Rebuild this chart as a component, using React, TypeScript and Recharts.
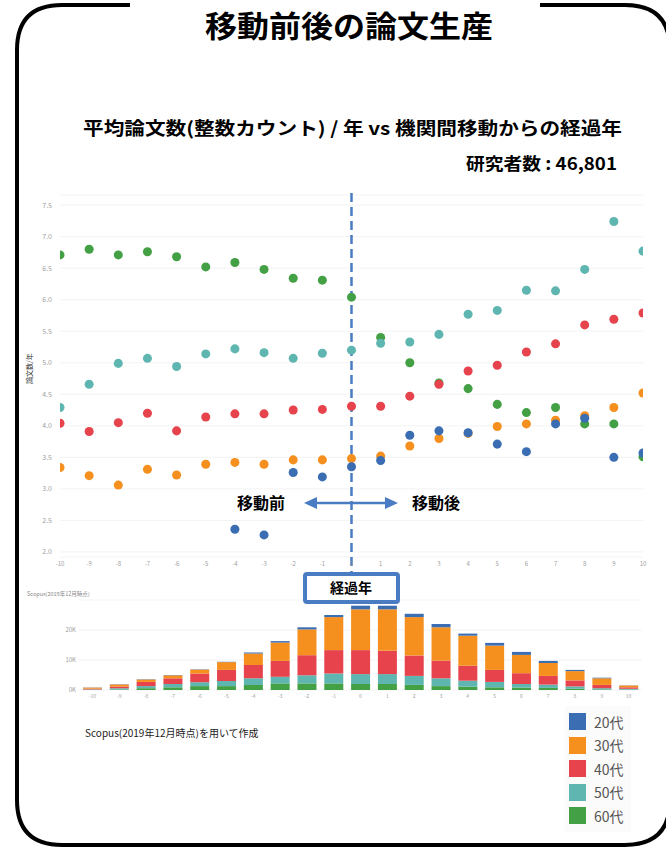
import React from "react";
import {
  ScatterChart,
  Scatter,
  XAxis,
  YAxis,
  ZAxis,
  CartesianGrid,
  ReferenceLine,
  BarChart,
  Bar,
} from "recharts";

// years since moving between institutions
const years = [-10, -9, -8, -7, -6, -5, -4, -3, -2, -1, 0, 1, 2, 3, 4, 5, 6, 7, 8, 9, 10];

// average papers per year by age group
const papers60 = [6.71, 6.8, 6.71, 6.76, 6.68, 6.52, 6.59, 6.48, 6.34, 6.31, 6.04, 5.4, 5.0, 4.68, 4.59, 4.34, 4.21, 4.29, 4.03, 4.03, 3.51];
const papers50 = [4.29, 4.66, 4.99, 5.07, 4.94, 5.14, 5.22, 5.16, 5.07, 5.15, 5.2, 5.31, 5.33, 5.45, 5.77, 5.83, 6.15, 6.14, 6.48, 7.24, 6.77];
const papers40 = [4.04, 3.91, 4.05, 4.2, 3.92, 4.14, 4.19, 4.19, 4.25, 4.26, 4.31, 4.31, 4.47, 4.66, 4.87, 4.96, 5.17, 5.3, 5.6, 5.69, 5.79];
const papers30 = [3.34, 3.21, 3.06, 3.31, 3.22, 3.39, 3.42, 3.39, 3.46, 3.46, 3.48, 3.52, 3.68, 3.8, 3.88, 3.99, 4.03, 4.09, 4.16, 4.29, 4.52];
const papers20 = [null, null, null, null, null, null, 2.36, 2.27, 3.26, 3.19, 3.35, 3.45, 3.85, 3.92, 3.89, 3.71, 3.59, 4.03, 4.12, 3.5, 3.57];

// researchers counted per year (thousands)
const count60 = [0.05, 0.2, 0.6, 0.9, 1.3, 1.3, 1.7, 2.2, 2.2, 2.2, 2.0, 2.0, 1.7, 1.3, 1.1, 0.9, 0.8, 0.7, 0.4, 0.2, 0.1];
const count50 = [0.15, 0.4, 0.7, 1.1, 1.3, 1.7, 2.2, 2.2, 2.7, 3.3, 3.3, 3.3, 3.0, 2.6, 2.0, 1.8, 1.2, 1.1, 0.8, 0.4, 0.3];
const count40 = [0.25, 0.6, 1.4, 1.9, 2.9, 3.7, 4.4, 5.3, 6.7, 7.8, 8.0, 7.8, 6.8, 5.9, 5.0, 4.0, 3.6, 2.9, 2.0, 1.1, 0.5];
const count30 = [0.35, 0.6, 0.8, 1.0, 1.3, 2.6, 3.9, 6.1, 8.6, 11.0, 13.6, 13.8, 12.8, 11.1, 10.0, 8.1, 6.1, 4.3, 3.1, 2.2, 0.6];
const count20 = [0.05, 0.1, 0.1, 0.1, 0.1, 0.1, 0.3, 0.5, 0.7, 0.7, 1.2, 1.2, 1.1, 1.1, 0.7, 0.9, 1.0, 0.7, 0.4, 0.2, 0.05];

const yTicks = [2, 2.5, 3, 3.5, 4, 4.5, 5, 5.5, 6, 6.5, 7, 7.5];
const barTicks = [0, 10, 20];

const groups = [
  { key: "g20", name: "20代", color: "#3b6db3", papers: papers20, count: count20 },
  { key: "g30", name: "30代", color: "#f5901e", papers: papers30, count: count30 },
  { key: "g40", name: "40代", color: "#e6434d", papers: papers40, count: count40 },
  { key: "g50", name: "50代", color: "#5fb6b0", papers: papers50, count: count50 },
  { key: "g60", name: "60代", color: "#43a044", papers: papers60, count: count60 },
];

// draw order: 60 at the bottom, 20 on top
const drawOrder = [...groups].reverse();

const scatterData = (vals: (number | null)[]) =>
  years
    .map((x, i) => ({ x, y: vals[i] }))
    .filter((d) => d.y !== null);

const barData = years.map((year, i) => {
  const row: Record<string, number> = { year };
  groups.forEach((g) => {
    row[g.key] = g.count[i];
  });
  return row;
});

const font = "'Noto Sans CJK JP', 'Noto Sans', sans-serif";
const tickStyle = { fontSize: 7, fill: "#a0a0a0" };

export default function App() {
  return (
    <div
      style={{
        position: "absolute",
        left: 0,
        top: 0,
        width: 666,
        height: 850,
        background: "#fff",
        fontFamily: font,
        overflow: "hidden",
      }}
    >
      <div style={{ position: "absolute", left: 0, top: 0 }}>
        <ScatterChart
          width={666}
          height={600}
          margin={{ top: 195, right: 23, bottom: 23, left: 30 }}
        >
          <CartesianGrid stroke="#f3f3f3" vertical={false} />
          <XAxis
            type="number"
            dataKey="x"
            domain={[-10, 10]}
            ticks={years}
            allowDataOverflow
            axisLine={false}
            tickLine={false}
            tickSize={0}
            tickMargin={5}
            height={20}
            tick={{ fontSize: 6, fill: "#a0a0a0" }}
          />
          <YAxis
            type="number"
            dataKey="y"
            domain={[1.92, 7.66]}
            ticks={yTicks}
            allowDataOverflow
            axisLine={false}
            tickLine={false}
            tickSize={0}
            tickMargin={8}
            width={30}
            tickFormatter={(v: number) => v.toFixed(1)}
            tick={tickStyle}
            label={{
              value: "論文数/年",
              angle: -90,
              position: "insideLeft",
              offset: 0,
              dy: 8,
              style: { fontSize: 7, fill: "#333" },
            }}
          />
          <ZAxis range={[118, 118]} />
          {drawOrder.map((g) => (
            <Scatter
              key={g.key}
              name={g.name}
              data={scatterData(g.papers)}
              fill={g.color}
              isAnimationActive={false}
            />
          ))}
          <ReferenceLine
            segment={[
              { x: 0, y: 7.69 },
              { x: 0, y: 1.68 },
            ]}
            ifOverflow="visible"
            stroke="#4a7cc4"
            strokeWidth={2.5}
            strokeDasharray="9 5"
          />
        </ScatterChart>
      </div>

      <div style={{ position: "absolute", left: 0, top: 560 }}>
        <BarChart
          width={666}
          height={160}
          data={barData}
          margin={{ top: 40, right: 24, bottom: 16, left: 49 }}
          barSize={19}
        >
          <CartesianGrid stroke="#f3f3f3" vertical={false} />
          <XAxis
            dataKey="year"
            axisLine={false}
            tickLine={false}
            tickSize={0}
            tickMargin={4}
            height={14}
            interval={0}
            tick={{ fontSize: 5, fill: "#a0a0a0" }}
          />
          <YAxis
            domain={[0, 30]}
            ticks={barTicks}
            axisLine={false}
            tickLine={false}
            tickSize={0}
            tickMargin={3}
            width={30}
            tickFormatter={(v: number) => `${v}K`}
            tick={{ fontSize: 6, fill: "#a0a0a0" }}
          />
          {drawOrder.map((g) => (
            <Bar
              key={g.key}
              dataKey={g.key}
              name={g.name}
              stackId="n"
              fill={g.color}
              isAnimationActive={false}
            />
          ))}
        </BarChart>
      </div>

      {/* frame, titles and annotations */}
      <svg
        width={666}
        height={850}
        style={{ position: "absolute", left: 0, top: 0, pointerEvents: "none" }}
      >
        <path
          d="M130 5 L62 5 Q17 5 17 50 L17 800 Q17 845 62 845 L625 845 Q670 845 670 800 L670 50 Q670 5 625 5 L540 5"
          fill="none"
          stroke="#000"
          strokeWidth={4}
        />
        <text
          x={349}
          y={37}
          textAnchor="middle"
          fontSize={30}
          fontWeight={700}
          fill="#000"
          textLength={288}
          lengthAdjust="spacingAndGlyphs"
        >
          移動前後の論文生産
        </text>
        <text
          x={83}
          y={135}
          fontSize={18}
          fontWeight={700}
          fill="#000"
          textLength={539}
          lengthAdjust="spacingAndGlyphs"
        >
          平均論文数(整数カウント) / 年 vs 機関間移動からの経過年
        </text>
        <text
          x={466}
          y={170}
          fontSize={17}
          fontWeight={700}
          fill="#000"
          textLength={151}
          lengthAdjust="spacingAndGlyphs"
        >
          研究者数 : 46,801
        </text>

        {/* before / after arrow */}
        <line x1={315} y1={503} x2={387} y2={503} stroke="#4a7cc4" strokeWidth={2.5} />
        <polygon points="304,503 317,497 317,509" fill="#4a7cc4" />
        <polygon points="398,503 385,497 385,509" fill="#4a7cc4" />
        <text x={261} y={509} textAnchor="middle" fontSize={16} fontWeight={700} fill="#000">
          移動前
        </text>
        <text x={436} y={509} textAnchor="middle" fontSize={16} fontWeight={700} fill="#000">
          移動後
        </text>

        <rect x={305} y={574} width={93} height={28} rx={2} fill="#fff" stroke="#4a7cc4" strokeWidth={4} />
        <text x={351} y={593} textAnchor="middle" fontSize={14} fontWeight={700} fill="#000">
          経過年
        </text>

        <text x={27} y={596} fontSize={5.5} fill="#888">
          Scopus(2019年12月時点)
        </text>
        <text x={85} y={737} fontSize={10} fill="#222">
          Scopus(2019年12月時点)を用いて作成
        </text>
      </svg>

      {/* legend */}
      <div
        style={{
          position: "absolute",
          left: 565,
          top: 706,
          width: 62,
          padding: "4px 0 4px 4px",
          background: "#fbfbfb",
        }}
      >
        {groups.map((g) => (
          <div
            key={g.key}
            style={{ display: "flex", alignItems: "center", height: 23.5 }}
          >
            <span
              style={{
                display: "inline-block",
                width: 17,
                height: 17,
                background: g.color,
                marginRight: 8,
              }}
            />
            <span style={{ fontSize: 14, color: "#555" }}>{g.name}</span>
          </div>
        ))}
      </div>
    </div>
  );
}
